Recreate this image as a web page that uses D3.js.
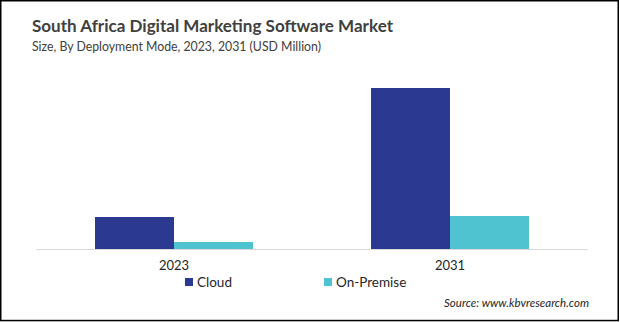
<!DOCTYPE html>
<html>
<head>
<meta charset="utf-8">
<script src="https://cdn.jsdelivr.net/npm/d3@7"></script>
<style>
  html, body { margin: 0; padding: 0; background: #fff; }
  svg { display: block; }
  text { font-family: Lato, "Open Sans", sans-serif; }
</style>
</head>
<body>
<svg id="chart" width="620" height="322"></svg>
<script>
const categories = ["2023", "2031"];
const seriesNames = ["Cloud", "On-Premise"];
const cloudValues = [32, 161];
const onPremiseValues = [7, 33];
const seriesColors = ["#2b3990", "#4fc3cf"];

const svg = d3.select("#chart");
const W = 620, H = 322;

svg.append("rect").attr("width", W).attr("height", H).attr("fill", "#fff");
svg.append("rect").attr("x", 0.75).attr("y", 0.75).attr("width", 617.5).attr("height", 319.8)
  .attr("fill", "none").attr("stroke", "#000").attr("stroke-width", 1.5);

// Title & subtitle
svg.append("text").attr("x", 32).attr("y", 32)
  .attr("font-size", 17).attr("font-weight", "bold").attr("fill", "#404040")
  .attr("textLength", 361).attr("lengthAdjust", "spacingAndGlyphs")
  .text("South Africa Digital  Marketing Software Market");
svg.append("text").attr("x", 32).attr("y", 51)
  .attr("font-size", 13).attr("fill", "#404040")
  .attr("textLength", 289).attr("lengthAdjust", "spacingAndGlyphs")
  .text("Size, By Deployment Mode,  2023, 2031 (USD Million)");

const baseY = 249;
const y = d3.scaleLinear().domain([0, 200]).range([baseY, 49]);

const x0 = d3.scaleBand().domain(categories).range([36, 588]).padding(0);
const x1 = d3.scaleBand().domain(seriesNames)
  .range([0, x0.bandwidth()]).paddingInner(0).paddingOuter(0.747);

const data = categories.map((c, i) => ({
  cat: c,
  vals: [
    { s: seriesNames[0], v: cloudValues[i], color: seriesColors[0] },
    { s: seriesNames[1], v: onPremiseValues[i], color: seriesColors[1] }
  ]
}));

const g = svg.append("g");
g.selectAll("g.grp").data(data).join("g")
  .attr("class", "grp")
  .attr("transform", d => `translate(${x0(d.cat)},0)`)
  .selectAll("rect").data(d => d.vals).join("rect")
  .attr("x", d => x1(d.s))
  .attr("width", x1.bandwidth())
  .attr("y", d => y(d.v))
  .attr("height", d => y(0) - y(d.v))
  .attr("fill", d => d.color);

// baseline
svg.append("line").attr("x1", 36).attr("x2", 588).attr("y1", baseY + 0.5).attr("y2", baseY + 0.5)
  .attr("stroke", "#d9d9d9").attr("stroke-width", 1);

// category labels axis
const axis = svg.append("g").attr("transform", `translate(0,${baseY})`)
  .call(d3.axisBottom(x0).tickSize(0).tickPadding(12));
axis.select(".domain").remove();
axis.selectAll("text").attr("font-size", 13).attr("fill", "#262626")
  .style("font-family", "Lato, 'Open Sans', sans-serif");

// legend
const legendX = [185, 324];
const leg = svg.append("g");
seriesNames.forEach((s, i) => {
  leg.append("rect").attr("x", legendX[i]).attr("y", 278).attr("width", 8).attr("height", 8)
    .attr("fill", seriesColors[i]);
  leg.append("text").attr("x", legendX[i] + 12).attr("y", 286.5)
    .attr("font-size", 13.5).attr("fill", "#262626").text(s);
});

// source
svg.append("text").attr("x", 589).attr("y", 307).attr("text-anchor", "end")
  .attr("font-size", 11.5).attr("font-style", "italic").attr("fill", "#262626")
  .text("Source: www.kbvresearch.com");
</script>
</body>
</html>
